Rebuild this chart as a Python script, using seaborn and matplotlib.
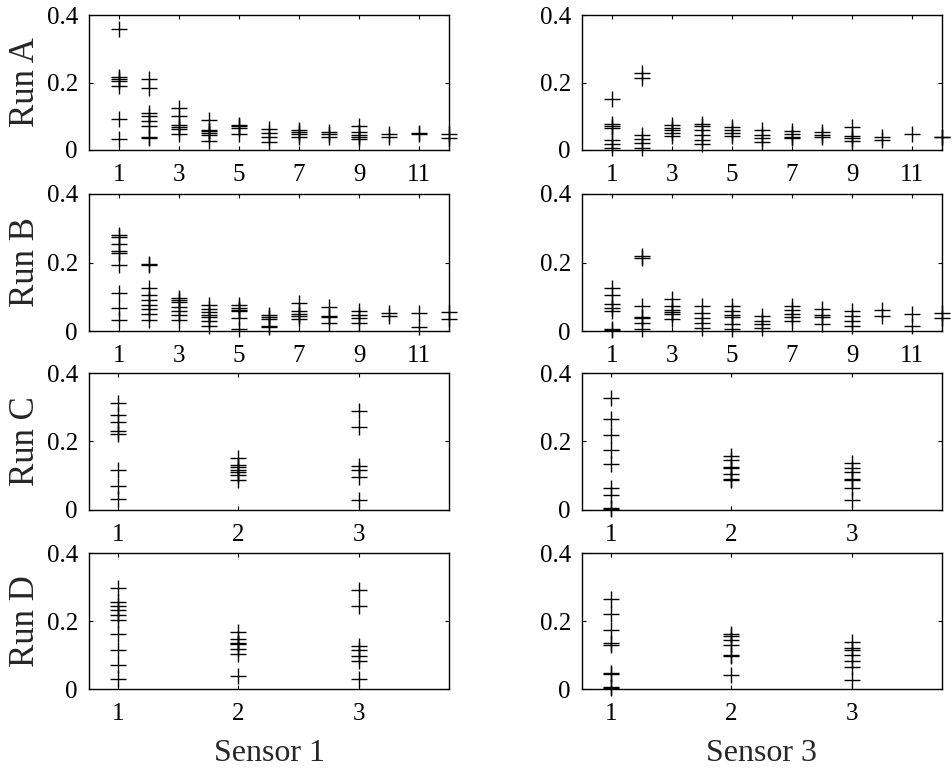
import numpy as np
import pandas as pd
import matplotlib
matplotlib.use("Agg")
import matplotlib.pyplot as plt
import seaborn as sns

# ---- data: one list of values per category (x = 1..n) ----
s1_run_a = [
    [0.36, 0.215, 0.21, 0.205, 0.19, 0.093, 0.033],
    [0.21, 0.185, 0.11, 0.10, 0.085, 0.07, 0.04, 0.035],
    [0.125, 0.10, 0.075, 0.068, 0.062, 0.048],
    [0.09, 0.06, 0.055, 0.05, 0.045, 0.028],
    [0.075, 0.07, 0.065, 0.048],
    [0.063, 0.05, 0.038, 0.023],
    [0.058, 0.052, 0.046, 0.04],
    [0.052, 0.046, 0.04],
    [0.07, 0.052, 0.045, 0.038, 0.032],
    [0.046, 0.04],
    [0.05, 0.047],
    [0.046, 0.037],
]
s3_run_a = [
    [0.15, 0.078, 0.07, 0.065, 0.03, 0.018, 0.005],
    [0.228, 0.212, 0.044, 0.032, 0.02, 0.006],
    [0.075, 0.065, 0.058, 0.05, 0.042],
    [0.077, 0.072, 0.06, 0.045, 0.03, 0.018],
    [0.068, 0.06, 0.05, 0.042],
    [0.058, 0.045, 0.035, 0.025],
    [0.055, 0.048, 0.04, 0.035],
    [0.052, 0.045, 0.04],
    [0.068, 0.042, 0.035, 0.028],
    [0.04, 0.03],
    [0.046],
    [0.04, 0.038],
]
s1_run_b = [
    [0.28, 0.275, 0.255, 0.235, 0.228, 0.193, 0.112, 0.066, 0.032],
    [0.197, 0.193, 0.125, 0.105, 0.09, 0.077, 0.063, 0.05, 0.032],
    [0.097, 0.09, 0.085, 0.07, 0.057, 0.047, 0.033],
    [0.075, 0.065, 0.055, 0.048, 0.042, 0.03, 0.015],
    [0.077, 0.066, 0.06, 0.057, 0.037, 0.005],
    [0.046, 0.04, 0.035, 0.014, 0.012],
    [0.083, 0.057, 0.05, 0.043, 0.036],
    [0.069, 0.044, 0.041, 0.022],
    [0.057, 0.046, 0.037, 0.022],
    [0.052, 0.045],
    [0.052, 0.013],
    [0.056, 0.034],
]
s3_run_b = [
    [0.127, 0.104, 0.078, 0.068, 0.058, 0.005, 0.003],
    [0.218, 0.214, 0.073, 0.04, 0.037, 0.024, 0.005],
    [0.092, 0.072, 0.062, 0.055, 0.05, 0.034],
    [0.073, 0.053, 0.039, 0.024, 0.01],
    [0.073, 0.058, 0.047, 0.04, 0.02, 0.005],
    [0.044, 0.03, 0.02, 0.01],
    [0.073, 0.06, 0.05, 0.04, 0.03],
    [0.063, 0.048, 0.04, 0.02],
    [0.058, 0.044, 0.03, 0.015],
    [0.06, 0.045],
    [0.049, 0.015],
    [0.053, 0.039],
]
s1_run_c = [
    [0.312, 0.278, 0.256, 0.23, 0.222, 0.117, 0.071, 0.031],
    [0.151, 0.13, 0.125, 0.118, 0.112, 0.102, 0.088],
    [0.29, 0.242, 0.129, 0.117, 0.096, 0.029],
]
s3_run_c = [
    [0.327, 0.265, 0.218, 0.175, 0.133, 0.063, 0.043, 0.005, 0.003],
    [0.157, 0.146, 0.127, 0.123, 0.104, 0.09, 0.087],
    [0.138, 0.123, 0.11, 0.09, 0.087, 0.063, 0.028],
]
s1_run_d = [
    [0.297, 0.255, 0.243, 0.231, 0.219, 0.204, 0.162, 0.116, 0.072, 0.03],
    [0.167, 0.147, 0.135, 0.131, 0.118, 0.104, 0.037],
    [0.292, 0.243, 0.127, 0.114, 0.096, 0.081, 0.029],
]
s3_run_d = [
    [0.266, 0.222, 0.174, 0.134, 0.13, 0.047, 0.043, 0.006, 0.004],
    [0.161, 0.157, 0.145, 0.13, 0.1, 0.097, 0.04],
    [0.138, 0.12, 0.116, 0.101, 0.081, 0.065, 0.027],
]

row_labels = ["Run A", "Run B", "Run C", "Run D"]
col_labels = ["Sensor 1", "Sensor 3"]
ticks_long = [1, 3, 5, 7, 9, 11]
ticks_short = [1, 2, 3]
y_ticks = [0, 0.2, 0.4]
y_ticklabels = ["0", "0.2", "0.4"]

panels = [
    [s1_run_a, s3_run_a],
    [s1_run_b, s3_run_b],
    [s1_run_c, s3_run_c],
    [s1_run_d, s3_run_d],
]


def to_frame(groups):
    xs, ys = [], []
    for i, vals in enumerate(groups, start=1):
        for v in vals:
            xs.append(i)
            ys.append(v)
    return pd.DataFrame({"x": xs, "y": ys})


sns.set_style("ticks")
plt.rcParams["font.family"] = ["Liberation Serif", "DejaVu Serif"]
plt.rcParams["xtick.direction"] = "in"
plt.rcParams["ytick.direction"] = "in"

W, H = 953, 769
fig = plt.figure(figsize=(W / 100, H / 100), dpi=100)

col_left = [89, 582]
ax_w = 360
row_tb = [(15, 150), (194, 331), (373, 510), (553, 689)]

for r in range(4):
    for c in range(2):
        top, bot = row_tb[r]
        ax = fig.add_axes([col_left[c] / W, 1 - bot / H, ax_w / W, (bot - top) / H])
        df = to_frame(panels[r][c])
        sns.scatterplot(data=df, x="x", y="y", ax=ax, marker="+", s=125,
                        color="black", linewidth=1.0, clip_on=False, legend=False)
        if r < 2:
            ax.set_xlim(0, 12)
            ax.set_xticks(ticks_long)
        else:
            ax.set_xlim(0.76, 3.75)
            ax.set_xticks(ticks_short)
        ax.set_ylim(0, 0.4)
        ax.set_yticks(y_ticks)
        ax.set_yticklabels(y_ticklabels)
        ax.tick_params(axis="y", which="both", direction="in", length=3,
                       width=0.8, labelsize=18, pad=8, left=True, right=True,
                       colors="black")
        ax.tick_params(axis="x", which="both", direction="in", length=3,
                       width=0.8, labelsize=18, pad=10, bottom=True, top=True,
                       colors="black")
        for sp in ax.spines.values():
            sp.set_visible(True)
            sp.set_color("black")
            sp.set_linewidth(1.0)
        ax.set_xlabel("")
        ax.set_ylabel("")
        if c == 0:
            ax.set_ylabel(row_labels[r], fontsize=25, labelpad=3)
        if r == 3:
            ax.set_xlabel(col_labels[c], fontsize=23, labelpad=10)

fig.savefig("out.png", dpi=100, facecolor="white")
